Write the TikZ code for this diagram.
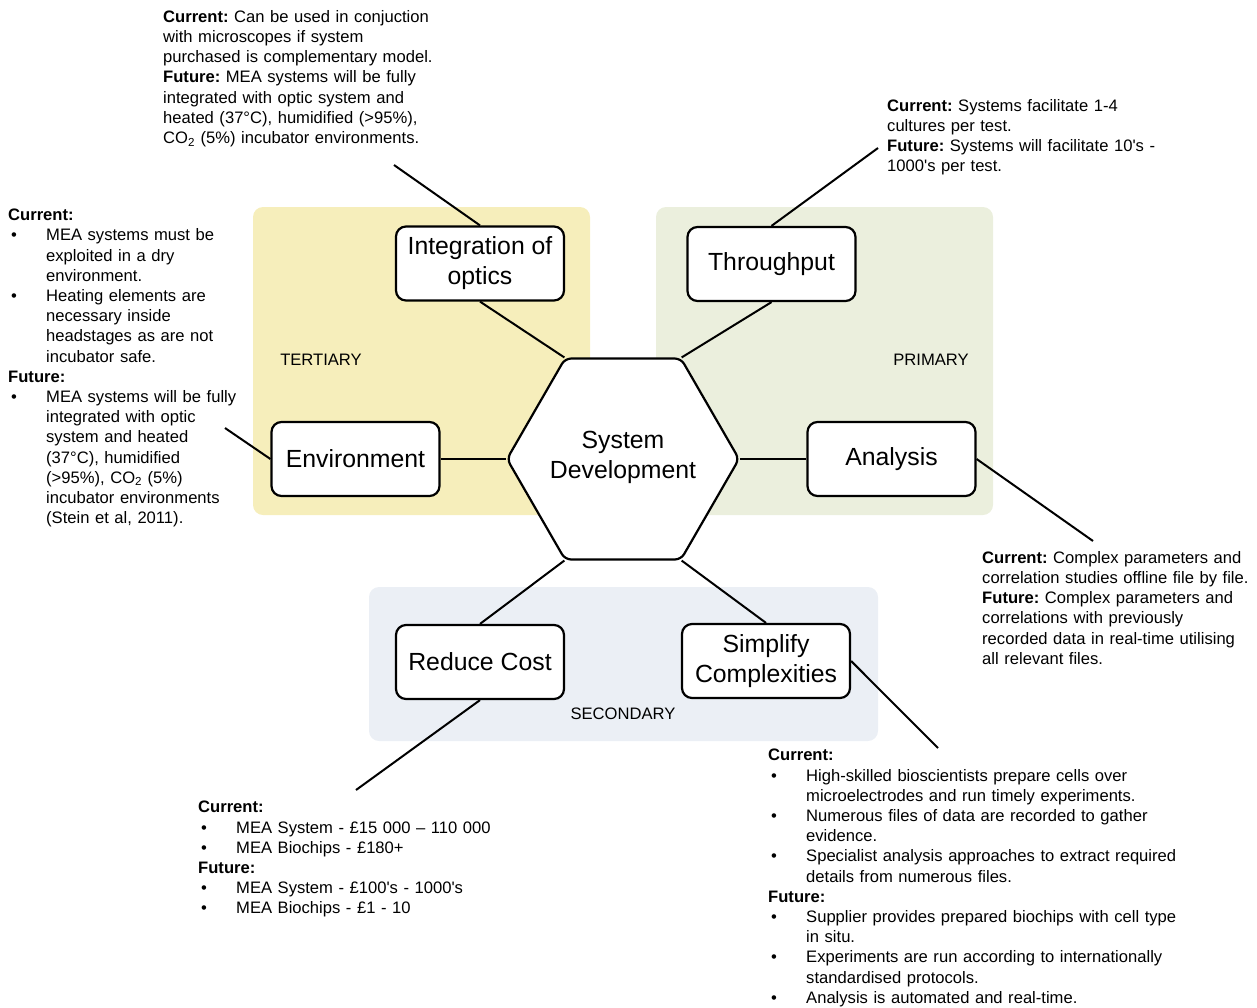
\documentclass[tikz,border=0pt]{standalone}
\usepackage{fontspec}
\setmainfont{Liberation Sans}
\usetikzlibrary{shapes.geometric}
\definecolor{tert}{HTML}{F6EEBB}
\definecolor{prim}{HTML}{EBEFDD}
\definecolor{seco}{HTML}{EBEFF5}
\newcommand\bul[1]{\par\noindent\hangindent=38pt\hangafter=1\makebox[38pt][l]{\hspace{3pt}\textbullet}#1\par}
\newcommand\apos{\textquotesingle}
\frenchspacing
\begin{document}
\begin{tikzpicture}[x=1pt,y=-1pt,
  box/.style={draw, line width=2.2pt, rounded corners=10pt, fill=white,
    minimum width=168pt, minimum height=74pt, align=center, inner sep=2pt,
    font=\fontsize{24.8}{30}\selectfont},
  conn/.style={line width=2pt},
  ann/.style={anchor=north west, inner sep=0pt, align=left,
    font=\fontsize{16.6}{20.2}\selectfont\frenchspacing},
  lab/.style={inner sep=0pt, font=\fontsize{16.6}{20}\selectfont}]
\useasboundingbox (0,0) rectangle (1257,1007);

% regions
\fill[tert, rounded corners=10pt] (253,207) rectangle (590,515);
\fill[prim, rounded corners=10pt] (656,207) rectangle (993,515);
\fill[seco, rounded corners=10pt] (369,587) rectangle (878,741);

\node[lab] (lt) at (321,360) {TERTIARY};
\node[lab] (lp) at (931,360) {PRIMARY};
\node[lab] (ls) at (623,714) {SECONDARY};

% central hexagon
\node[regular polygon, regular polygon sides=6, minimum size=232pt, draw,
  line width=2.2pt, rounded corners=6pt, fill=white, inner sep=0pt] (hex) at (623,459) {};
\node[inner sep=0pt, align=center, font=\fontsize{24.8}{30}\selectfont] (hext) at (623,457)
  {System\\Development};

% boxes
\node[box] (intopt) at (480,263.5) {Integration of\\optics};
\node[box] (thr) at (771.5,264) {Throughput};
\node[box] (env) at (355.5,459) {Environment};
\node[box] (ana) at (891.5,459) {Analysis};
\node[box] (red) at (480,662) {Reduce Cost};
\node[box] (sim) at (766,661) {Simplify\\Complexities};

% connectors to hexagon
\draw[conn] (hex.120) -- (intopt.south);
\draw[conn] (hex.60) -- (thr.south);
\draw[conn] (hex.180) -- (env.east);
\draw[conn] (hex.0) -- (ana.west);
\draw[conn] (hex.240) -- (red.north);
\draw[conn] (hex.300) -- (sim.north);

% leader lines
\coordinate (eint) at (394,165);
\coordinate (ethr) at (878,148);
\coordinate (eenv) at (225,428);
\coordinate (eana) at (1093,541);
\coordinate (ered) at (356,790);
\coordinate (esim) at (938,748);
\draw[conn] (intopt.north) -- (eint);
\draw[conn] (thr.north) -- (ethr);
\draw[conn] (env.west) -- (eenv);
\draw[conn] (ana.east) -- (eana);
\draw[conn] (red.south) -- (ered);
\draw[conn] (sim.east) -- (esim);

% annotations
\node[ann, text width=275pt] (aint) at (163,10) {\textbf{Current:} Can be used in conjuction\\
with microscopes if system\\
purchased is complementary model.\\
\textbf{Future:} MEA systems will be fully\\
integrated with optic system and\\
heated (37°C), humidified (>95\%),\\
CO\textsubscript{2} (5\%) incubator environments.};

\node[ann, text width=272pt] (athr) at (887,99) {\textbf{Current:} Systems facilitate 1-4\\
cultures per test.\\
\textbf{Future:} Systems will facilitate 10\apos s -\\
1000\apos s per test.};

\node[ann, text width=272pt] (aana) at (982,551) {\textbf{Current:} Complex parameters and\\
correlation studies offline file by file.\\
\textbf{Future:} Complex parameters and\\
correlations with previously\\
recorded data in real-time utilising\\
all relevant files.};

\node[ann, text width=232pt] (aenv) at (8,209) {\textbf{Current:}\par
\bul{MEA systems must be\newline exploited in a dry\newline environment.}
\bul{Heating elements are\newline necessary inside\newline headstages as are not\newline incubator safe.}
\textbf{Future:}\par
\bul{MEA systems will be fully\newline integrated with optic\newline system and heated\newline (37°C), humidified\newline (>95\%), CO\textsubscript{2} (5\%)\newline incubator environments\newline (Stein et al, 2011).}};

\node[ann, text width=295pt] (ared) at (198,801) {\textbf{Current:}\par
\bul{MEA System - £15 000 – 110 000}
\bul{MEA Biochips - £180+}
\textbf{Future:}\par
\bul{MEA System - £100\apos s - 1000\apos s}
\bul{MEA Biochips - £1 - 10}};

\node[ann, text width=415pt] (asim) at (768,749) {\textbf{Current:}\par
\bul{High-skilled bioscientists prepare cells over\newline microelectrodes and run timely experiments.}
\bul{Numerous files of data are recorded to gather\newline evidence.}
\bul{Specialist analysis approaches to extract required\newline details from numerous files.}
\textbf{Future:}\par
\bul{Supplier provides prepared biochips with cell type\newline in situ.}
\bul{Experiments are run according to internationally\newline standardised protocols.}
\bul{Analysis is automated and real-time.}};
\end{tikzpicture}
\end{document}
